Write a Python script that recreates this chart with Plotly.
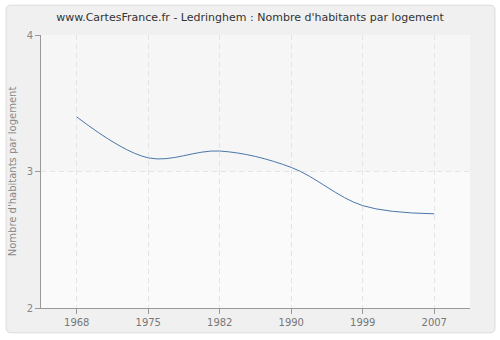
import plotly.graph_objects as go

years = ["1968", "1975", "1982", "1990", "1999", "2007"]
values = [3.40, 3.10, 3.15, 3.03, 2.75, 2.69]
y_ticks = [2, 3, 4]

title = "www.CartesFrance.fr - Ledringhem : Nombre d'habitants par logement"
y_title = "Nombre d'habitants par logement"

W, H = 500, 340
ml, mr, mt, mb = 40, 30, 35, 30
pw, ph = W - ml - mr, H - mt - mb

def px_x(p):
    return (p - ml) / pw

def px_y(p):
    return (H - mb - p) / ph

x0, x1 = px_x(5), px_x(495)
y0, y1 = px_y(335), px_y(5)
rx = 5 / pw
ry = 5 / ph
path = (f"M {x0+rx},{y1} L {x1-rx},{y1} Q {x1},{y1} {x1},{y1-ry} "
        f"L {x1},{y0+ry} Q {x1},{y0} {x1-rx},{y0} L {x0+rx},{y0} "
        f"Q {x0},{y0} {x0},{y0+ry} L {x0},{y1-ry} Q {x0},{y1} {x0+rx},{y1} Z")

fig = go.Figure()
fig.add_trace(go.Scatter(
    x=years, y=values, mode="lines",
    line=dict(color="#4a77a8", width=1, shape="spline", smoothing=1.0),
    hoverinfo="skip", showlegend=False,
))

shapes = [
    dict(type="path", path=path, xref="paper", yref="paper",
         fillcolor="#f0f0f0", line=dict(color="#dcdcdc", width=1), layer="below"),
    dict(type="rect", xref="paper", yref="paper", x0=0, x1=1, y0=0.5, y1=1,
         fillcolor="#f6f6f6", line=dict(width=0), layer="below"),
    dict(type="rect", xref="paper", yref="paper", x0=0, x1=1, y0=0, y1=0.5,
         fillcolor="#fafafa", line=dict(width=0), layer="below"),
]

fig.update_layout(
    width=W, height=H,
    margin=dict(l=ml, r=mr, t=mt, b=mb),
    paper_bgcolor="white", plot_bgcolor="rgba(0,0,0,0)",
    font=dict(family="DejaVu Sans", size=10, color="#777"),
    title=dict(text=title, x=0.5, xanchor="center", y=1 - 17 / H, yanchor="middle",
               font=dict(family="DejaVu Sans", size=11, color="#333")),
    shapes=shapes,
    xaxis=dict(type="category", range=[-0.5, len(years) - 0.5],
               showgrid=True, gridcolor="#e4e4e4", griddash="5px,4px", gridwidth=1,
               showline=True, linecolor="#999", linewidth=1,
               ticks="outside", ticklen=5, tickcolor="#999",
               zeroline=False, fixedrange=True,
               tickfont=dict(size=10, color="#777")),
    yaxis=dict(range=[2, 4], tickvals=y_ticks,
               showgrid=True, gridcolor="#e4e4e4", griddash="5px,4px", gridwidth=1,
               showline=True, linecolor="#999", linewidth=1,
               ticks="outside", ticklen=5, tickcolor="#999",
               zeroline=False, fixedrange=True,
               title=dict(text=y_title, font=dict(size=10, color="#888"), standoff=8),
               tickfont=dict(size=10, color="#888")),
)

fig.write_html("out.html")
